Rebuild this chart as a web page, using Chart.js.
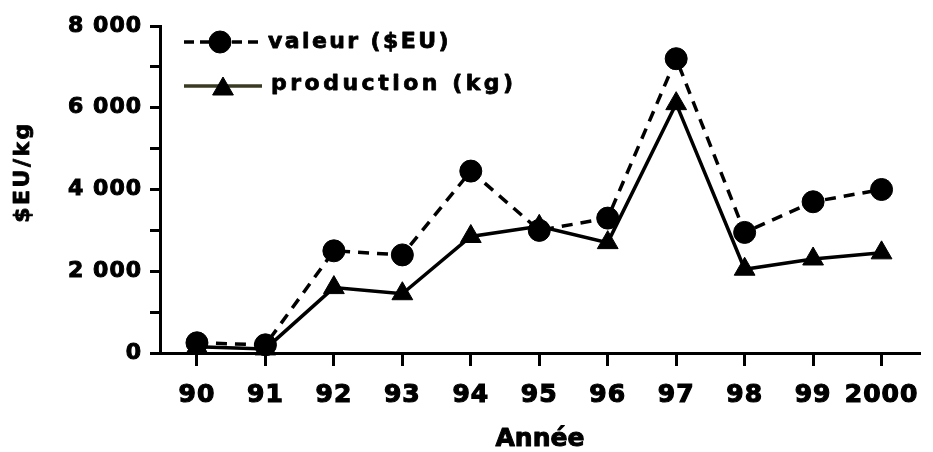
<!DOCTYPE html>
<html><head><meta charset="utf-8">
<script src="https://cdn.jsdelivr.net/npm/chart.js@4.4.0/dist/chart.umd.min.js"></script>
<style>html,body{margin:0;padding:0;background:#fff}#wrap{width:933px;height:452px;position:relative}</style>
</head><body><div id="wrap"><canvas id="c"></canvas></div>
<script>
const years = ['90','91','92','93','94','95','96','97','98','99','2000'];
const valeur = [250, 200, 2500, 2400, 4450, 3000, 3300, 7200, 2950, 3700, 4000];
const production = [150, 100, 1600, 1450, 2850, 3100, 2700, 6100, 2050, 2300, 2450];
const seriesNames = ['valeur ($EU)', 'production (kg)'];
const xTitle = 'Année';
const yTitle = '$EU/kg';
const yMin = 0, yMax = 8000, yStep = 1000, yLabelStep = 2000;

function fmt(v){ return String(v).replace(/\B(?=(\d{3})+(?!\d))/g, ' '); }
const FONT = '"DejaVu Sans", Verdana, sans-serif';

function setSp(c){ c.ctx.letterSpacing = '1px'; }
const spacingPlugin = {
  id: 'spacing',
  beforeUpdate: setSp, beforeLayout: setSp, beforeDraw: setSp
};

function heavyText(ctx, txt, x, y, w){
  ctx.lineWidth = w; ctx.lineJoin = 'round';
  ctx.strokeText(txt, x, y);
  ctx.fillText(txt, x, y);
}

const extrasPlugin = {
  id: 'extras',
  afterDraw(c){
    const ctx = c.ctx;
    ctx.save();
    ctx.fillStyle = '#000'; ctx.strokeStyle = '#000';
    ctx.letterSpacing = '2.5px';
    ctx.font = 'bold 22px ' + FONT;
    ctx.textAlign = 'center';
    ctx.textBaseline = 'middle';
    ctx.translate(23, 172);
    ctx.rotate(-Math.PI/2);
    heavyText(ctx, yTitle, 0, 0, 0.8);
    ctx.restore();

    ctx.save();
    ctx.fillStyle = '#000'; ctx.strokeStyle = '#000';
    ctx.letterSpacing = '0px';
    ctx.font = 'bold 25px ' + FONT;
    ctx.textAlign = 'center';
    ctx.textBaseline = 'middle';
    heavyText(ctx, xTitle, (c.chartArea.left + c.chartArea.right)/2, 439, 1);
    ctx.restore();

    // legend
    ctx.save();
    ctx.strokeStyle = '#000';
    ctx.lineWidth = 3.5;
    ctx.setLineDash([10, 6]);
    ctx.beginPath(); ctx.moveTo(184, 42); ctx.lineTo(258, 42); ctx.stroke();
    ctx.setLineDash([]);
    ctx.fillStyle = '#000'; ctx.lineWidth = 1;
    Chart.helpers.drawPoint(ctx, {pointStyle:'circle', radius:11, rotation:0, borderWidth:1}, 220, 42);
    ctx.strokeStyle = '#3a3a22'; ctx.lineWidth = 3.5;
    ctx.beginPath(); ctx.moveTo(184, 86); ctx.lineTo(262, 86); ctx.stroke();
    ctx.strokeStyle = '#000'; ctx.fillStyle = '#000'; ctx.lineWidth = 1;
    Chart.helpers.drawPoint(ctx, {pointStyle:'triangle', radius:12, rotation:0, borderWidth:1}, 223, 89);
    ctx.font = 'bold 22px ' + FONT;
    ctx.textAlign = 'left';
    ctx.textBaseline = 'middle';
    ctx.letterSpacing = '2.4px';
    heavyText(ctx, seriesNames[0], 268, 42, 0.8);
    ctx.letterSpacing = '3.5px';
    heavyText(ctx, seriesNames[1], 271, 84, 0.8);
    ctx.restore();
  }
};

new Chart(document.getElementById('c'), {
  type: 'line',
  data: {
    datasets: [
      { label: seriesNames[0], data: years.map((_, i) => ({x: i, y: valeur[i]})),
        borderColor: '#000', borderWidth: 3.5, borderDash: [11, 8], backgroundColor: '#000',
        pointStyle: 'circle', pointRadius: 11, pointBorderWidth: 1, pointBackgroundColor: '#000', pointBorderColor: '#000',
        tension: 0, clip: false },
      { label: seriesNames[1], data: years.map((_, i) => ({x: i, y: production[i]})),
        borderColor: '#000', borderWidth: 3.5, backgroundColor: '#000',
        pointStyle: 'triangle', pointRadius: 12, pointBorderWidth: 1, pointBackgroundColor: '#000', pointBorderColor: '#000',
        tension: 0, clip: false }
    ]
  },
  options: {
    responsive: true, maintainAspectRatio: false, animation: false,
    layout: { padding: { top: 26, right: 8, left: 0, bottom: 0 } },
    plugins: { legend: { display: false }, tooltip: { enabled: false } },
    scales: {
      x: {
        type: 'linear', min: -0.54, max: 10.56,
        afterBuildTicks: s => { s.ticks = years.map((_, i) => ({value: i})); },
        afterFit: s => { s.height = 99; },
        ticks: { callback: (v, i) => years[i], font: { family: FONT, size: 25, weight: 'bold' }, color: '#000',
                 textStrokeWidth: 1.2, textStrokeColor: '#000', padding: 14, autoSkip: false, maxRotation: 0 },
        grid: { drawOnChartArea: false, drawTicks: true, tickLength: 13, lineWidth: 3, color: '#000' },
        border: { display: true, width: 3, color: '#000' }
      },
      y: {
        min: yMin, max: yMax,
        afterFit: s => { s.width = 160; },
        ticks: { stepSize: yStep, callback: v => (v % yLabelStep === 0 ? fmt(v) : ''), font: { family: FONT, size: 22, weight: 'bold' }, color: '#000',
                 textStrokeWidth: 1, textStrokeColor: '#000', padding: 8 },
        grid: { drawOnChartArea: false, drawTicks: true, tickLength: 10, lineWidth: 3, color: '#000' },
        border: { display: true, width: 3, color: '#000' }
      }
    }
  },
  plugins: [spacingPlugin, extrasPlugin]
});
</script>
</body></html>
